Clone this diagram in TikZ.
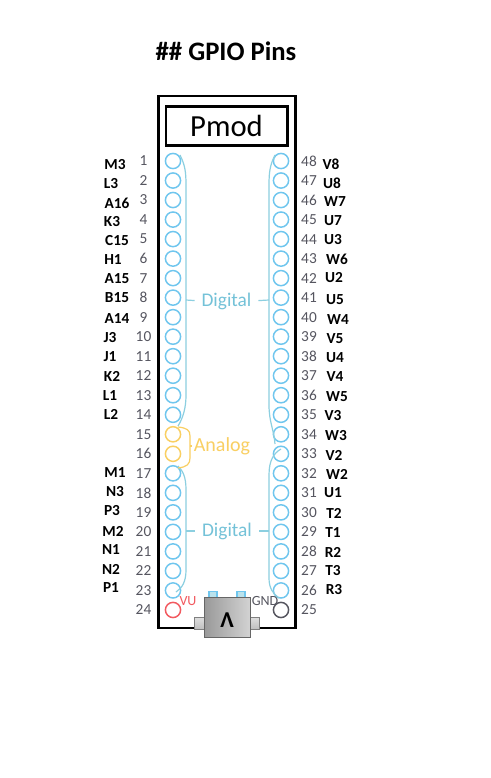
\documentclass[tikz,border=0pt]{standalone}
\usepackage{fontspec}
\setmainfont{Carlito}
\usetikzlibrary{chains,positioning}
\definecolor{pinblue}{HTML}{6FC6EE}
\definecolor{bracketblue}{HTML}{8CCFE0}
\definecolor{digitalblue}{HTML}{74C2D8}
\definecolor{analogyellow}{HTML}{F9CF62}
\definecolor{pinred}{HTML}{F2595F}
\definecolor{pingrey}{HTML}{55555F}
\begin{document}
\begin{tikzpicture}[x=0.75pt,y=-0.75pt]
\tikzstyle{pinhole}=[draw=pinblue,circle,line width=1.1pt,minimum size=11.4pt,inner sep=0pt,outer sep=0pt]
\tikzstyle{pinnum}=[text=pingrey,font=\fontsize{11.5}{11}\selectfont,minimum height=14.64pt,inner sep=0pt,outer sep=0pt]
\tikzstyle{gpio}=[font=\fontsize{11.5}{12}\selectfont\bfseries,inner sep=0pt]
\tikzstyle{bracket}=[draw=bracketblue,line width=0.9pt]
\tikzstyle{board}=[draw=black,line width=2.2pt]
\useasboundingbox (0,0) rectangle (490,778);
\node [font=\fontsize{20}{20}\selectfont\bfseries] (title) at (226,51) {\#\# GPIO Pins};
\node [board,fill=white,minimum width=103pt,minimum height=399pt,inner sep=0pt] (pcb) at (227,362) {};
\node [draw=black,line width=2pt,minimum width=91pt,minimum height=29pt,inner sep=0pt,font=\fontsize{23}{23}\selectfont] (pmod) at (226.5,126) {Pmod};
% left pin row
\begin{scope}[start chain=1 going below,node distance=3.24pt,shift={(173,161)}]
    \node [on chain=1,pinhole] (p1) {};
    \node [on chain=1,pinhole] (p2) {};
    \node [on chain=1,pinhole] (p3) {};
    \node [on chain=1,pinhole] (p4) {};
    \node [on chain=1,pinhole] (p5) {};
    \node [on chain=1,pinhole] (p6) {};
    \node [on chain=1,pinhole] (p7) {};
    \node [on chain=1,pinhole] (p8) {};
    \node [on chain=1,pinhole] (p9) {};
    \node [on chain=1,pinhole] (p10) {};
    \node [on chain=1,pinhole] (p11) {};
    \node [on chain=1,pinhole] (p12) {};
    \node [on chain=1,pinhole] (p13) {};
    \node [on chain=1,pinhole] (p14) {};
    \node [on chain=1,pinhole,draw=analogyellow] (p15) {};
    \node [on chain=1,pinhole,draw=analogyellow] (p16) {};
    \node [on chain=1,pinhole] (p17) {};
    \node [on chain=1,pinhole] (p18) {};
    \node [on chain=1,pinhole] (p19) {};
    \node [on chain=1,pinhole] (p20) {};
    \node [on chain=1,pinhole] (p21) {};
    \node [on chain=1,pinhole] (p22) {};
    \node [on chain=1,pinhole] (p23) {};
    \node [on chain=1,pinhole,draw=pinred] (p24) {};
\end{scope}
% right pin row
\begin{scope}[start chain=2 going below,node distance=3.24pt,shift={(281,161)}]
    \node [on chain=2,pinhole] (p48) {};
    \node [on chain=2,pinhole] (p47) {};
    \node [on chain=2,pinhole] (p46) {};
    \node [on chain=2,pinhole] (p45) {};
    \node [on chain=2,pinhole] (p44) {};
    \node [on chain=2,pinhole] (p43) {};
    \node [on chain=2,pinhole] (p42) {};
    \node [on chain=2,pinhole] (p41) {};
    \node [on chain=2,pinhole] (p40) {};
    \node [on chain=2,pinhole] (p39) {};
    \node [on chain=2,pinhole] (p38) {};
    \node [on chain=2,pinhole] (p37) {};
    \node [on chain=2,pinhole] (p36) {};
    \node [on chain=2,pinhole] (p35) {};
    \node [on chain=2,pinhole] (p34) {};
    \node [on chain=2,pinhole] (p33) {};
    \node [on chain=2,pinhole] (p32) {};
    \node [on chain=2,pinhole] (p31) {};
    \node [on chain=2,pinhole] (p30) {};
    \node [on chain=2,pinhole] (p29) {};
    \node [on chain=2,pinhole] (p28) {};
    \node [on chain=2,pinhole] (p27) {};
    \node [on chain=2,pinhole] (p26) {};
    \node [on chain=2,pinhole,draw=pingrey] (p25) {};
\end{scope}
% pin numbers
\begin{scope}[start chain=3 going below,node distance=0pt,shift={(143.5,161)}]
    \node [on chain=3,pinnum] (n1) {1};
    \node [on chain=3,pinnum] (n2) {2};
    \node [on chain=3,pinnum] (n3) {3};
    \node [on chain=3,pinnum] (n4) {4};
    \node [on chain=3,pinnum] (n5) {5};
    \node [on chain=3,pinnum] (n6) {6};
    \node [on chain=3,pinnum] (n7) {7};
    \node [on chain=3,pinnum] (n8) {8};
    \node [on chain=3,pinnum] (n9) {9};
    \node [on chain=3,pinnum] (n10) {10};
    \node [on chain=3,pinnum] (n11) {11};
    \node [on chain=3,pinnum] (n12) {12};
    \node [on chain=3,pinnum] (n13) {13};
    \node [on chain=3,pinnum] (n14) {14};
    \node [on chain=3,pinnum] (n15) {15};
    \node [on chain=3,pinnum] (n16) {16};
    \node [on chain=3,pinnum] (n17) {17};
    \node [on chain=3,pinnum] (n18) {18};
    \node [on chain=3,pinnum] (n19) {19};
    \node [on chain=3,pinnum] (n20) {20};
    \node [on chain=3,pinnum] (n21) {21};
    \node [on chain=3,pinnum] (n22) {22};
    \node [on chain=3,pinnum] (n23) {23};
    \node [on chain=3,pinnum] (n24) {24};
\end{scope}
\begin{scope}[start chain=4 going below,node distance=0pt,shift={(309,161)}]
    \node [on chain=4,pinnum] (n48) {48};
    \node [on chain=4,pinnum] (n47) {47};
    \node [on chain=4,pinnum] (n46) {46};
    \node [on chain=4,pinnum] (n45) {45};
    \node [on chain=4,pinnum] (n44) {44};
    \node [on chain=4,pinnum] (n43) {43};
    \node [on chain=4,pinnum] (n42) {42};
    \node [on chain=4,pinnum] (n41) {41};
    \node [on chain=4,pinnum] (n40) {40};
    \node [on chain=4,pinnum] (n39) {39};
    \node [on chain=4,pinnum] (n38) {38};
    \node [on chain=4,pinnum] (n37) {37};
    \node [on chain=4,pinnum] (n36) {36};
    \node [on chain=4,pinnum] (n35) {35};
    \node [on chain=4,pinnum] (n34) {34};
    \node [on chain=4,pinnum] (n33) {33};
    \node [on chain=4,pinnum] (n32) {32};
    \node [on chain=4,pinnum] (n31) {31};
    \node [on chain=4,pinnum] (n30) {30};
    \node [on chain=4,pinnum] (n29) {29};
    \node [on chain=4,pinnum] (n28) {28};
    \node [on chain=4,pinnum] (n27) {27};
    \node [on chain=4,pinnum] (n26) {26};
    \node [on chain=4,pinnum] (n25) {25};
\end{scope}
% package pins, left
\node [gpio] (m3) at (115,165) {M3};
\node [gpio] (l3) at (111,184) {L3};
\node [gpio] (a16) at (117,203) {A16};
\node [gpio] (k3) at (112,222) {K3};
\node [gpio] (c15) at (117,241) {C15};
\node [gpio] (h1) at (113,260) {H1};
\node [gpio] (a15) at (117,279) {A15};
\node [gpio] (b15) at (117,298) {B15};
\node [gpio] (a14) at (117,319) {A14};
\node [gpio] (j3) at (110,338) {J3};
\node [gpio] (j1) at (110,357) {J1};
\node [gpio] (k2) at (112,376) {K2};
\node [gpio] (l1) at (110,396) {L1};
\node [gpio] (l2) at (111,414) {L2};
\node [gpio] (m1) at (115,473) {M1};
\node [gpio] (n3pin) at (115,492) {N3};
\node [gpio] (p3pin) at (112,511) {P3};
\node [gpio] (m2) at (113,531) {M2};
\node [gpio] (n1pin) at (111,550) {N1};
\node [gpio] (n2pin) at (111,569) {N2};
\node [gpio] (p1pin) at (111,588) {P1};
% package pins, right
\node [gpio] (v8) at (331,164) {V8};
\node [gpio] (u8) at (332,183) {U8};
\node [gpio] (w7) at (335,202) {W7};
\node [gpio] (u7) at (333,221) {U7};
\node [gpio] (u3) at (333,240) {U3};
\node [gpio] (w6) at (337,259) {W6};
\node [gpio] (u2) at (334,278) {U2};
\node [gpio] (u5) at (335,300) {U5};
\node [gpio] (w4) at (338,320) {W4};
\node [gpio] (v5) at (335,339) {V5};
\node [gpio] (u4) at (335,358) {U4};
\node [gpio] (v4) at (335,377) {V4};
\node [gpio] (w5) at (337,397) {W5};
\node [gpio] (v3) at (333,416) {V3};
\node [gpio] (w3) at (336,436) {W3};
\node [gpio] (v2) at (334,455) {V2};
\node [gpio] (w2) at (337,474) {W2};
\node [gpio] (u1) at (333,493) {U1};
\node [gpio] (t2) at (334,513) {T2};
\node [gpio] (t1) at (333,533) {T1};
\node [gpio] (r2) at (333,552) {R2};
\node [gpio] (t3) at (333,571) {T3};
\node [gpio] (r3) at (334,590) {R3};
% group labels
\node [text=digitalblue,font=\fontsize{14.5}{14}\selectfont,inner sep=0pt] (dig1) at (226.5,301) {Digital};
\node [text=digitalblue,font=\fontsize{14.5}{14}\selectfont,inner sep=0pt] (dig2) at (227,531) {Digital};
\node [text=analogyellow,font=\fontsize{15}{15}\selectfont,inner sep=0pt] (analog) at (222,446) {Analog};
\coordinate (tl1) at (186,300);
\coordinate (tr1) at (269,300);
\coordinate (tl2) at (186,531);
\coordinate (tr2) at (269,531);
\coordinate (ta) at (190,446);
% brackets
\draw [bracket] (180,155) .. controls (185,165) and (186,172) .. (186,185) -- (186,395) .. controls (186,408) and (183,418) .. (178,426);
\draw [bracket] (178,466) .. controls (183,471) and (186,477) .. (186,490) -- (186,570) .. controls (186,582) and (182,588) .. (176,592);
\draw [bracket] (275,155) .. controls (270,165) and (269,172) .. (269,185) -- (269,405) .. controls (269,422) and (274,430) .. (275,444);
\draw [bracket] (281,449) .. controls (274,453) and (269,460) .. (269,475) -- (269,578) .. controls (269,588) and (273,594) .. (279,598);
\draw [draw=analogyellow,line width=0.9pt] (178,427) .. controls (187,428) and (190,430) .. (190,436) -- (190,458) .. controls (190,464) and (187,467) .. (178,468);
\draw [bracket,shorten >=5pt] (tl1) -- (dig1.west);
\draw [bracket,shorten >=5pt] (tr1) -- (dig1.east);
\draw [bracket,shorten >=5pt] (tl2) -- (dig2.west);
\draw [bracket,shorten >=5pt] (tr2) -- (dig2.east);
\draw [draw=analogyellow,line width=0.9pt,shorten >=1pt] (ta) -- (analog.west);
% usb connector
\node [draw=pinblue,fill=bracketblue!60,minimum width=6pt,minimum height=5pt,inner sep=0pt,line width=0.8pt] (tabl) at (213,595) {};
\node [draw=pinblue,fill=bracketblue!60,minimum width=6pt,minimum height=5pt,inner sep=0pt,line width=0.8pt] (tabr) at (241,595) {};
\node [draw=gray,top color=gray!25,bottom color=gray!50,minimum width=7pt,minimum height=9pt,inner sep=0pt,line width=0.6pt] (earl) at (199.5,623) {};
\node [draw=gray,top color=gray!25,bottom color=gray!50,minimum width=7pt,minimum height=9pt,inner sep=0pt,line width=0.6pt] (earr) at (254.5,623) {};
\node [draw=black!60,left color=gray!80,right color=gray!35,minimum width=34.5pt,minimum height=30.5pt,inner sep=0pt,line width=0.7pt] (usb) at (227,617.5) {};
\node [font=\fontsize{17}{17}\selectfont\bfseries,inner sep=0pt] (usbmark) at (227,620) {Λ};
\node [text=pinred,font=\fontsize{10.5}{10}\selectfont,inner sep=0pt] (vu) at (188,601) {VU};
\node [text=pingrey,font=\fontsize{10.5}{10}\selectfont,inner sep=0pt] (gnd) at (265,601) {GND};
\end{tikzpicture}
\end{document}
